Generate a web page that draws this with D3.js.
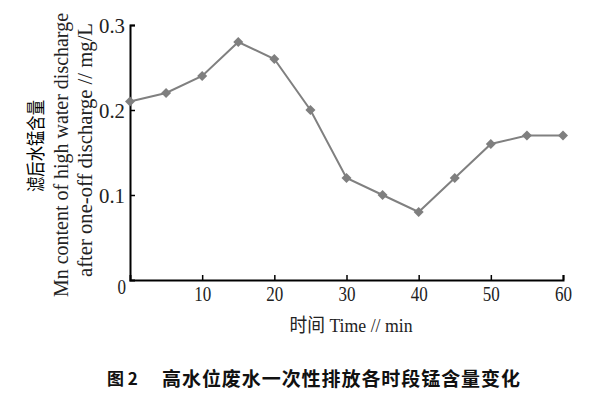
<!DOCTYPE html>
<html>
<head>
<meta charset="utf-8">
<script src="https://cdn.jsdelivr.net/npm/d3@7"></script>
<style>
  html, body { margin: 0; padding: 0; background: #fff; }
  svg { display: block; }
</style>
</head>
<body>
<svg id="chart" width="597" height="398"></svg>
<script>
// ---- data ----
const times = [0, 5, 10, 15, 20, 25, 30, 35, 40, 45, 50, 55, 60];
const mnValues = [0.21, 0.22, 0.24, 0.28, 0.26, 0.20, 0.12, 0.10, 0.08, 0.12, 0.16, 0.17, 0.17];
const xTicks = [10, 20, 30, 40, 50, 60];
const yTicks = [0.1, 0.2, 0.3];
const yTitleLines = ["滤后水锰含量", "Mn content of high water discharge", "after one-off discharge // mg/L"];
const xTitle = "时间 Time // min";
const captionLabel = "图 2";
const captionText = "高水位废水一次性排放各时段锰含量变化";

// ---- drawing ----
const svg = d3.select("#chart");
const serif = "'Liberation Serif', 'Times New Roman', 'Noto Sans CJK SC', serif";
const x = d3.scaleLinear().domain([0, 60]).range([130, 563]);
const y = d3.scaleLinear().domain([0, 0.3]).range([280, 25]);

// x axis
const xAxis = d3.axisBottom(x).tickValues(xTicks).tickSize(-5).tickPadding(8).tickFormat(d3.format("d"));
const gx = svg.append("g").attr("transform", `translate(0,${y(0)})`).call(xAxis);
gx.select(".domain").attr("stroke", "#000").attr("stroke-width", 2);
gx.selectAll(".tick line").attr("stroke", "#000").attr("stroke-width", 1.5);
gx.selectAll(".tick text").attr("font-family", serif).attr("font-size", 21).attr("fill", "#222")
  .attr("dy", null).attr("y", 14).attr("dominant-baseline", "central")
  .attr("textLength", 17).attr("lengthAdjust", "spacingAndGlyphs");

// y axis
const yAxis = d3.axisLeft(y).tickValues(yTicks).tickSize(-5).tickPadding(5).tickFormat(d3.format(".1f"));
const gy = svg.append("g").attr("transform", `translate(${x(0)},0)`).call(yAxis);
gy.select(".domain").attr("stroke", "#000").attr("stroke-width", 2);
gy.selectAll(".tick line").attr("stroke", "#000").attr("stroke-width", 1.5);
gy.selectAll(".tick text").attr("font-family", serif).attr("font-size", 21).attr("fill", "#222")
  .attr("dy", null).attr("x", -5).attr("dominant-baseline", "central")
  .attr("textLength", 26).attr("lengthAdjust", "spacingAndGlyphs");
// shared origin label
svg.append("text").attr("x", x(0) - 4).attr("y", y(0) + 7)
  .attr("text-anchor", "end").attr("dominant-baseline", "central")
  .attr("font-family", serif).attr("font-size", 21).attr("fill", "#222")
  .attr("textLength", 8.5).attr("lengthAdjust", "spacingAndGlyphs").text("0");

// line + markers
const line = d3.line().x((d, i) => x(times[i])).y(d => y(d));
svg.append("path").datum(mnValues).attr("d", line)
  .attr("fill", "none").attr("stroke", "#808080").attr("stroke-width", 2);
svg.append("g").selectAll("path").data(mnValues).join("path")
  .attr("transform", (d, i) => `translate(${x(times[i])},${y(d)})`)
  .attr("d", d3.symbol(d3.symbolDiamond2, 64))
  .attr("fill", "#7f7f7f");

// y title
const yTitleX = [34, 61, 85];
const yTitleY = [146, 155, 150];
const yTitleLen = [92, 284, 254];
yTitleLines.forEach((t, i) => {
  svg.append("text")
    .attr("transform", `translate(${yTitleX[i]},${yTitleY[i]}) rotate(-90)`)
    .attr("text-anchor", "middle").attr("dominant-baseline", "central")
    .attr("font-family", i === 0 ? "'Noto Sans CJK SC', sans-serif" : serif)
    .attr("font-size", i === 0 ? 19 : 20).attr("fill", i === 0 ? "#000" : "#222")
    .attr("textLength", yTitleLen[i]).attr("lengthAdjust", "spacingAndGlyphs")
    .text(t);
});

// x title
svg.append("text").attr("x", 351).attr("y", 325)
  .attr("text-anchor", "middle").attr("dominant-baseline", "central")
  .attr("font-family", serif).attr("font-size", 19).attr("fill", "#222")
  .attr("textLength", 123).attr("lengthAdjust", "spacingAndGlyphs")
  .text(xTitle);

// caption
svg.append("text").attr("x", 107).attr("y", 377)
  .attr("dominant-baseline", "central")
  .attr("font-family", "'Noto Sans CJK SC', sans-serif").attr("font-weight", "bold")
  .attr("font-size", 17).attr("fill", "#111")
  .text(captionLabel);
svg.append("text").attr("x", 162).attr("y", 377)
  .attr("dominant-baseline", "central")
  .attr("font-family", "'Noto Sans CJK SC', sans-serif").attr("font-weight", "bold")
  .attr("font-size", 19).attr("fill", "#111")
  .attr("textLength", 358).attr("lengthAdjust", "spacing")
  .text(captionText);
</script>
</body>
</html>
